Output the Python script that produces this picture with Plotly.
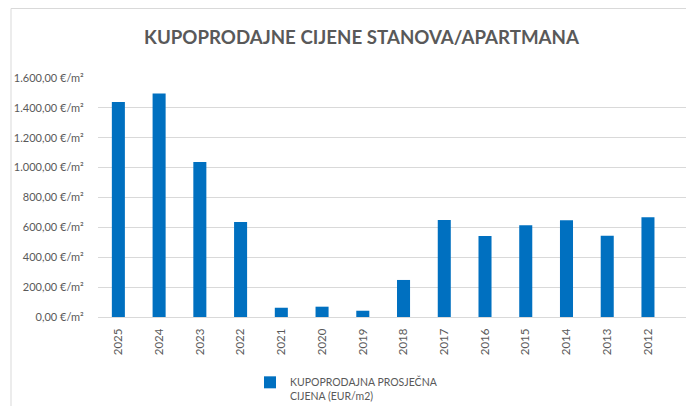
import plotly.graph_objects as go

years = ["2025", "2024", "2023", "2022", "2021", "2020", "2019", "2018",
         "2017", "2016", "2015", "2014", "2013", "2012"]
prices = [1440, 1497, 1037, 636, 62, 69, 42, 248, 649, 542, 614, 647, 544, 667]
y_ticks = [0, 200, 400, 600, 800, 1000, 1200, 1400, 1600]
y_tick_labels = ["0,00 €/m²", "200,00 €/m²", "400,00 €/m²", "600,00 €/m²", "800,00 €/m²",
                 "1.000,00 €/m²", "1.200,00 €/m²", "1.400,00 €/m²", "1.600,00 €/m²"]
series_name = "KUPOPRODAJNA PROSJEČNA<br>CIJENA (EUR/m2)"
title_text = "KUPOPRODAJNE CIJENE STANOVA/APARTMANA"

GRAY = "#595959"
GRID = "#d9d9d9"

fig = go.Figure()
fig.add_trace(go.Bar(
    x=list(range(len(years))), y=prices, name=series_name,
    marker=dict(color="#0070C0", line=dict(width=0)),
    showlegend=True,
))

# page body has an 8px margin; work in figure coordinates = reference - 8
OFF = 8
W, H = 694 - OFF, 406 - OFF
L, T = 98 - OFF, 78 - OFF
plot_bottom = 317 - OFF
B = H - plot_bottom
R = 0
pw = W - L - R
ph = H - T - B

fig.update_layout(
    width=W, height=H,
    margin=dict(l=L, r=R, t=T, b=B, pad=0, autoexpand=False),
    paper_bgcolor="white", plot_bgcolor="white",
    bargap=0.68,
    font=dict(family="Lato", color=GRAY),
    title=dict(text="<b>" + title_text + "</b>", x=(361.5 - OFF) / W, xanchor="center",
               y=1 - (37 - OFF) / H, yanchor="middle",
               font=dict(family="Lato", size=18.7, color=GRAY)),
    xaxis=dict(
        range=[-0.5, 14.13],
        tickmode="array", tickvals=list(range(len(years))), ticktext=years,
        tickangle=-90, showgrid=False, zeroline=False,
        showline=True, linecolor=GRID, linewidth=1,
        ticks="outside", ticklen=6, tickcolor="rgba(0,0,0,0)",
        tickfont=dict(family="Lato", size=11.5, color=GRAY),
    ),
    yaxis=dict(
        range=[0, 1600],
        tickmode="array", tickvals=y_ticks, ticktext=y_tick_labels,
        showgrid=True, gridcolor=GRID, gridwidth=1, zeroline=False,
        showline=False,
        ticks="outside", ticklen=11, tickcolor="rgba(0,0,0,0)",
        tickfont=dict(family="Lato", size=11, color=GRAY),
    ),
    legend=dict(
        x=(250 - OFF - L) / pw, xanchor="left",
        y=-(369 - OFF - plot_bottom) / ph, yanchor="top",
        font=dict(family="Lato", size=10.5, color=GRAY),
        bgcolor="rgba(0,0,0,0)", itemwidth=30,
        valign="top",
    ),
    shapes=[
        dict(type="line", xref="paper", yref="paper",
             x0=(11 - OFF - L) / pw, x1=(11 - OFF - L) / pw,
             y0=(plot_bottom - 0.5) / ph, y1=-(B + 5) / ph,
             line=dict(color=GRID, width=1)),
        dict(type="line", xref="paper", yref="paper",
             x0=(11 - OFF - L) / pw, x1=1.05,
             y0=(plot_bottom - 0.5) / ph, y1=(plot_bottom - 0.5) / ph,
             line=dict(color=GRID, width=1)),
    ],
)

fig.write_html("out.html")
